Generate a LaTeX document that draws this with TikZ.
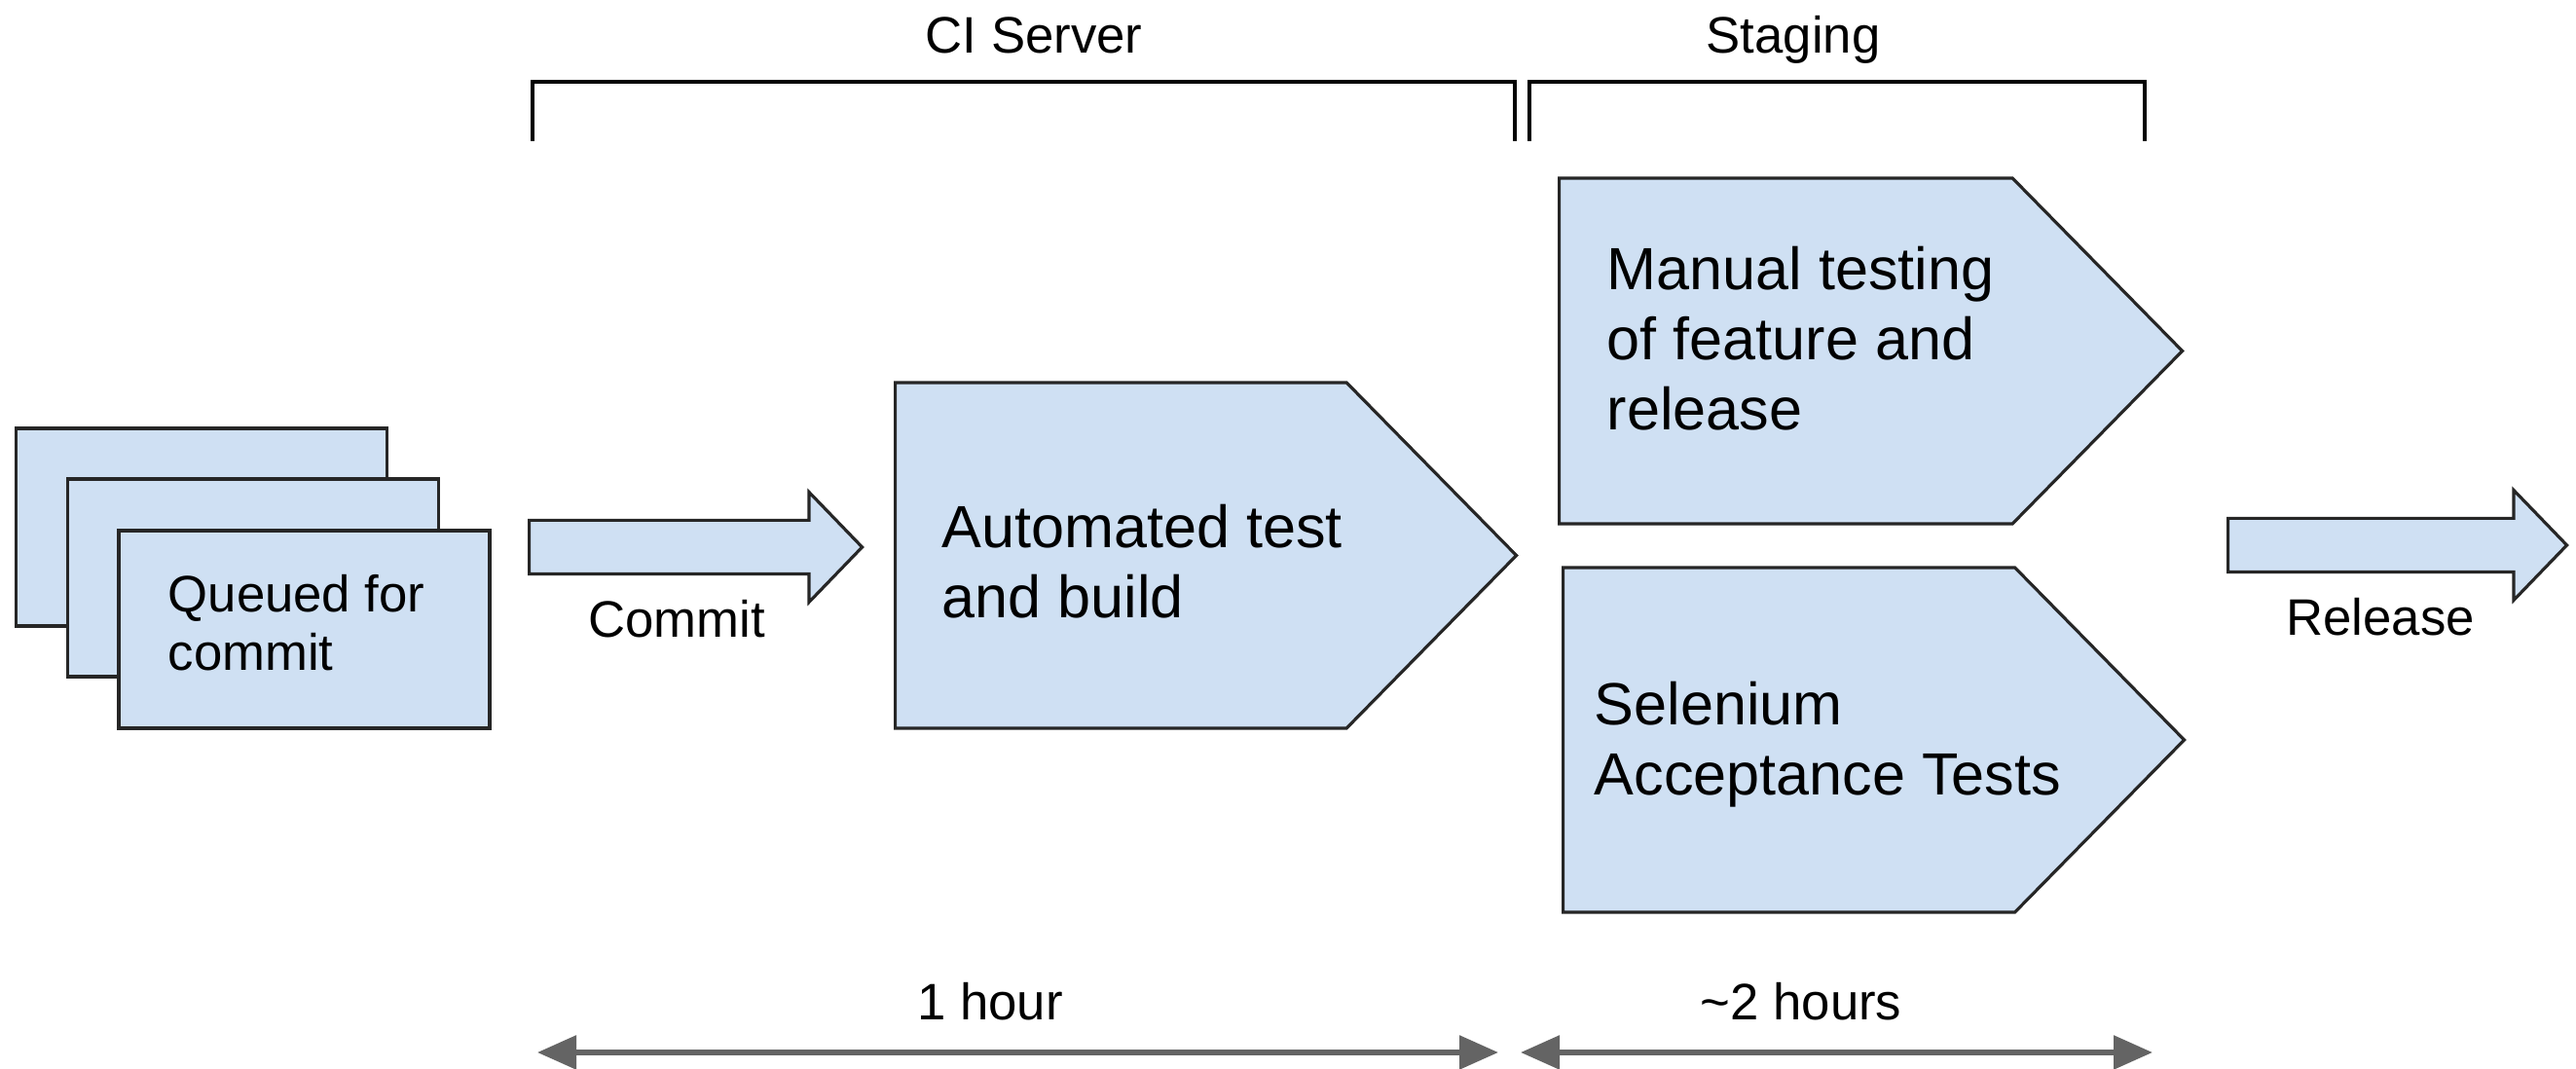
\documentclass[tikz,border=0pt]{standalone}
\usepackage{fontspec}
\setmainfont{Liberation Sans}
\usetikzlibrary{shapes.symbols, shapes.arrows, positioning, arrows.meta}
\definecolor{boxblue}{RGB}{207,224,243}
\definecolor{spangray}{RGB}{100,100,100}
\tikzset{
	stage/.style={signal, signal to=east, signal pointer angle=91, draw=black!85, line width=0.9pt, fill=boxblue, inner sep=0pt, anchor=west},
	card/.style={rectangle, draw=black!85, line width=0.9pt, fill=boxblue, minimum width=3.81cm, minimum height=2.03cm},
	flow/.style={single arrow, single arrow head extend=0.29cm, single arrow tip angle=92, draw=black!85, line width=0.9pt, fill=boxblue, inner xsep=0pt, inner ysep=0.26cm, anchor=tail},
	big/.style={font=\fontsize{17.4}{20.5}\selectfont, align=left, anchor=base west, inner sep=0pt},
	small/.style={font=\fontsize{15}{17.3}\selectfont, inner sep=0pt, anchor=base},
	span/.style={{Triangle[length=0.4cm,width=0.34cm]}-{Triangle[length=0.4cm,width=0.34cm]}, draw=spangray, line width=1.6pt},
	bracket/.style={draw=black, line width=1.3pt}
}
\begin{document}
\begin{tikzpicture}
	\useasboundingbox (0,0) rectangle (26.46,10.98);
	% commits waiting in the queue
	\foreach \i/\x/\y in {0/2.07/5.565, 1/2.60/5.045, 2/3.125/4.515}
		\node[card] (card\i) at (\x,\y) {};
	\node[small, anchor=base west, align=left] (queued) at (1.72,4.09) {Queued for\\commit};
	
	\node[flow, minimum height=3.42cm] (commit) at (5.42,5.36) {};
	\node[small] (commitlbl) at (6.95,4.43) {Commit};
	
	% ci server stage
	\node[stage, minimum width=6.38cm, minimum height=3.55cm] (build) at (9.18,5.275) {};
	\node[big] (buildtxt) at (9.67,4.63) {Automated test\\and build};
	
	% staging stages
	\node[stage, minimum width=6.40cm, minimum height=3.55cm] (manual) at (16.00,7.375) {};
	\node[big] (manualtxt) at (16.50,6.56) {Manual testing\\of feature and\\release};
	\node[stage, minimum width=6.38cm, minimum height=3.54cm] (selenium) at (16.04,3.38) {};
	\node[big] (seleniumtxt) at (16.37,2.81) {Selenium\\Acceptance Tests};
	
	\node[flow, minimum height=3.48cm] (release) at (22.87,5.38) {};
	\node[small] (releaselbl) at (24.45,4.45) {Release};
	
	% brackets on top
	\coordinate (ci0) at (5.47,9.53);
	\coordinate (ci1) at (15.56,9.53);
	\coordinate (st0) at (15.71,9.53);
	\coordinate (st1) at (22.03,9.53);
	\draw[bracket] (ci0) -- ++(0,0.61) -| (ci1);
	\draw[bracket] (st0) -- ++(0,0.61) -| (st1);
	\node[small] (cilbl) at (10.62,10.43) {CI Server};
	\node[small] (staginglbl) at (18.42,10.43) {Staging};
	
	% time spans
	\coordinate (h1a) at (5.52,0.17);
	\coordinate (h1b) at (15.39,0.17);
	\coordinate (h2a) at (15.62,0.17);
	\coordinate (h2b) at (22.11,0.17);
	\draw[span] (h1a) -- (h1b);
	\draw[span] (h2a) -- (h2b);
	\node[small] (onehour) at (10.17,0.50) {1 hour};
	\node[small] (twohours) at (18.50,0.50) {\textasciitilde 2 hours};
\end{tikzpicture}
\end{document}
